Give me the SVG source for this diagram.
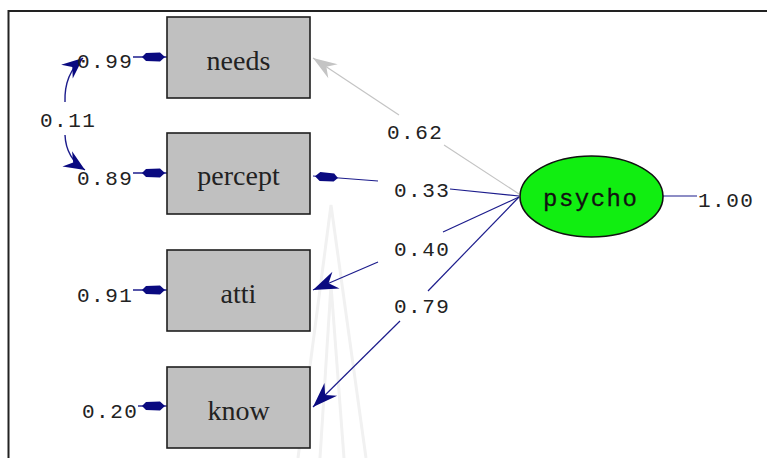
<svg xmlns="http://www.w3.org/2000/svg" width="767" height="458" viewBox="0 0 767 458">
  <style>
    .box { fill: #c0c0c0; stroke: #1e1e1e; stroke-width: 1.6; }
    .obs { font-family: "Liberation Serif", "Times New Roman", serif; font-size: 28px; fill: #222; text-anchor: middle; }
    .num { font-family: "Liberation Mono", "Courier New", monospace; font-size: 21px; letter-spacing: 1.5px; fill: #222; }
    .lat { font-family: "Liberation Mono", "Courier New", monospace; font-size: 24px; letter-spacing: 1.5px; fill: #111; stroke: #111; stroke-width: 0.3; }
    .path { fill: none; stroke: #1c1c8c; stroke-width: 1.2; }
    .weak { fill: none; stroke: #c4c4c4; stroke-width: 1.2; }
    .err { fill: none; stroke: #1c1c8c; stroke-width: 1.4; }
    .mark { fill: none; stroke: #f1f1f1; stroke-width: 3; }
  </style>
  <defs>
    <marker id="head" viewBox="-28 -11 30 22" refX="0" refY="0" markerWidth="30" markerHeight="22" markerUnits="userSpaceOnUse" orient="auto">
      <path d="M0,0 L-25,-9 L-17,0 L-25,9 Z" fill="#0a0a80"/>
    </marker>
    <marker id="head-weak" viewBox="-28 -11 30 22" refX="0" refY="0" markerWidth="30" markerHeight="22" markerUnits="userSpaceOnUse" orient="auto">
      <path d="M0,0 L-24,-8.5 L-16,0 L-24,8.5 Z" fill="#c4c4c4"/>
    </marker>
    <marker id="bar" viewBox="-28 -7 30 14" refX="0" refY="0" markerWidth="30" markerHeight="14" markerUnits="userSpaceOnUse" orient="auto">
      <path d="M-2,0 L-7,-4.5 L-21,-4 L-25,0 L-21,4 L-7,4.5 Z" fill="#0a0a80"/>
    </marker>
    <marker id="cov" viewBox="-24 -11 26 22" refX="0" refY="0" markerWidth="26" markerHeight="22" markerUnits="userSpaceOnUse" orient="auto">
      <path d="M0,0 L-21,-9 L-14,0 L-21,9 Z" fill="#0a0a80"/>
    </marker>
  </defs>

  <rect x="0" y="0" width="767" height="458" fill="#ffffff"/>

  <!-- faint background emblem -->
  <g id="emblem">
    <polyline class="mark" points="298,458 331,205 366,458"/>
    <polyline class="mark" points="320,458 331,285 344,458" stroke-width="2"/>
  </g>

  <!-- frame -->
  <g id="frame" stroke="#222" stroke-width="2" fill="none">
    <line x1="8.5" y1="11" x2="767" y2="11"/>
    <line x1="8.5" y1="10" x2="8.5" y2="458"/>
  </g>

  <!-- connectors -->
  <g id="connectors">
    <!-- loadings from psycho -->
    <line class="weak" x1="399" y1="115" x2="313" y2="58" marker-end="url(#head-weak)"/>
    <line class="weak" x1="519" y1="194" x2="444" y2="145"/>

    <line class="path" x1="378" y1="181" x2="313" y2="176" marker-end="url(#bar)"/>
    <line class="path" x1="519" y1="196" x2="450" y2="189"/>

    <line class="path" x1="378" y1="262" x2="313" y2="290" marker-end="url(#head)"/>
    <line class="path" x1="519" y1="197" x2="443" y2="232"/>

    <line class="path" x1="400" y1="321" x2="313" y2="407" marker-end="url(#head)"/>
    <line class="path" x1="519" y1="197" x2="428" y2="291"/>

    <!-- latent variance -->
    <line class="path" x1="663" y1="196" x2="697" y2="196"/>

    <!-- error terms -->
    <line class="err" x1="133" y1="57" x2="167" y2="57" marker-end="url(#bar)"/>
    <line class="err" x1="133" y1="173" x2="167" y2="173" marker-end="url(#bar)"/>
    <line class="err" x1="133" y1="290" x2="167" y2="290" marker-end="url(#bar)"/>
    <line class="err" x1="138" y1="406" x2="167" y2="406" marker-end="url(#bar)"/>

    <!-- error covariance -->
    <path class="err" d="M65,102 Q64,74 83,58" marker-end="url(#cov)"/>
    <path class="err" d="M65,135 Q66,158 85,170" marker-end="url(#cov)"/>

    <!-- coefficient labels -->
    <text class="num" x="387" y="139">0.62</text>
    <text class="num" x="394" y="197">0.33</text>
    <text class="num" x="394" y="256">0.40</text>
    <text class="num" x="394" y="313">0.79</text>
    <text class="num" x="698" y="207">1.00</text>
    <text class="num" x="77" y="68">0.99</text>
    <text class="num" x="77" y="185">0.89</text>
    <text class="num" x="77" y="302">0.91</text>
    <text class="num" x="82" y="418">0.20</text>
    <text class="num" x="40" y="127">0.11</text>
  </g>

  <!-- observed variables -->
  <g id="needs">
    <rect class="box" x="167" y="17" width="143" height="81"/>
    <text class="obs" x="238.5" y="70">needs</text>
  </g>
  <g id="percept">
    <rect class="box" x="167" y="133" width="143" height="81"/>
    <text class="obs" x="238.5" y="185">percept</text>
  </g>
  <g id="atti">
    <rect class="box" x="167" y="250" width="143" height="81"/>
    <text class="obs" x="238.5" y="303">atti</text>
  </g>
  <g id="know">
    <rect class="box" x="167" y="367" width="143" height="81"/>
    <text class="obs" x="238.5" y="420">know</text>
  </g>

  <!-- latent variable -->
  <g id="psycho">
    <ellipse cx="591.5" cy="196.5" rx="71.5" ry="40.5" fill="#11ee11" stroke="#111" stroke-width="1.6"/>
    <text class="lat" x="543" y="206">psycho</text>
  </g>
</svg>
